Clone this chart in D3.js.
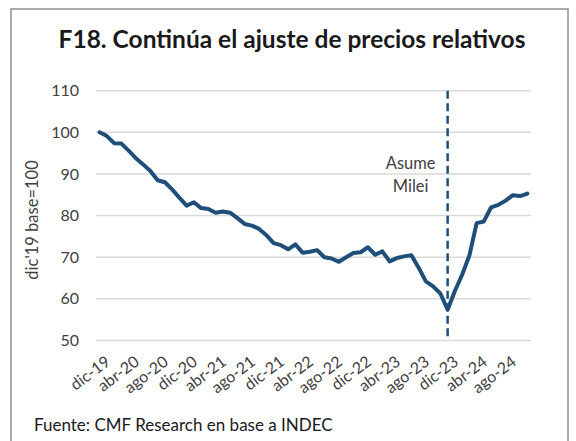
<!DOCTYPE html>
<html>
<head>
<meta charset="utf-8">
<script src="https://cdn.jsdelivr.net/npm/d3@7"></script>
<style>
  body { margin: 0; background: #fff; }
  svg { display: block; font-family: Lato, "Open Sans", sans-serif; }
</style>
</head>
<body>
<svg id="chart" width="576" height="441"></svg>
<script>
const MONTHS = [
  "dic-19",
  "ene-20", "feb-20", "mar-20", "abr-20", "may-20", "jun-20", "jul-20", "ago-20", "sep-20", "oct-20", "nov-20", "dic-20",
  "ene-21", "feb-21", "mar-21", "abr-21", "may-21", "jun-21", "jul-21", "ago-21", "sep-21", "oct-21", "nov-21", "dic-21",
  "ene-22", "feb-22", "mar-22", "abr-22", "may-22", "jun-22", "jul-22", "ago-22", "sep-22", "oct-22", "nov-22", "dic-22",
  "ene-23", "feb-23", "mar-23", "abr-23", "may-23", "jun-23", "jul-23", "ago-23", "sep-23", "oct-23", "nov-23", "dic-23",
  "ene-24", "feb-24", "mar-24", "abr-24", "may-24", "jun-24", "jul-24", "ago-24", "sep-24", "oct-24", "nov-24"
];

const RELATIVE_PRICES = [
  100.0, 99.1, 97.4, 97.3, 95.6, 93.8, 92.3, 90.7, 88.5, 88.0, 86.3, 84.3, 82.4,
  83.2, 81.8, 81.6, 80.7, 81.0, 80.7, 79.4, 78.0, 77.6, 76.8, 75.3, 73.4,
  72.9, 71.9, 73.1, 71.1, 71.3, 71.7, 70.0, 69.7, 68.9, 70.0, 71.0, 71.2,
  72.4, 70.6, 71.4, 69.0, 69.8, 70.2, 70.5, 67.5, 64.2, 63.0, 61.3, 57.4,
  61.9, 65.8, 70.4, 78.2, 78.6, 82.0, 82.6, 83.6, 84.9, 84.7, 85.3
];

const TICK_LABELS = [
  "dic-19", "abr-20", "ago-20", "dic-20", "abr-21", "ago-21", "dic-21", "abr-22",
  "ago-22", "dic-22", "abr-23", "ago-23", "dic-23", "abr-24", "ago-24"
];

const Y_TICKS = [50, 60, 70, 80, 90, 100, 110];
const MILEI_MONTH = "dic-23";

const svg = d3.select("#chart");
const blue = "#1f4e79";

// outer frame
svg.append("rect")
  .attr("x", 11).attr("y", 9)
  .attr("width", 557).attr("height", 450)
  .attr("fill", "none")
  .attr("stroke", "#8f8f8f")
  .attr("stroke-width", 1.5);

svg.append("text")
  .text("F18. Continúa el ajuste de precios relativos")
  .attr("x", 292).attr("y", 48)
  .attr("text-anchor", "middle")
  .style("font-size", "24.5px")
  .style("font-weight", "bold")
  .style("fill", "#1a1a1a");

const xScale = d3.scaleBand()
  .domain(MONTHS)
  .range([96, 531]);

const yScale = d3.scaleLinear()
  .domain([50, 110])
  .range([340.5, 90.7]);

const xPos = (m) => xScale(m) + xScale.bandwidth() / 2;

// gridlines
svg.append("g")
  .selectAll("line")
  .data(Y_TICKS)
  .enter()
  .append("line")
  .attr("x1", 96).attr("x2", 531)
  .attr("y1", (d) => yScale(d)).attr("y2", (d) => yScale(d))
  .attr("stroke", "#d9d9d9")
  .attr("stroke-width", 1.5);

// y axis
const yAxis = svg.append("g")
  .attr("transform", "translate(79,0)")
  .call(d3.axisLeft(yScale).tickValues(Y_TICKS).tickSize(0).tickPadding(0));
yAxis.select(".domain").remove();
yAxis.selectAll("text")
  .style("font-size", "16px")
  .style("font-family", "Lato, sans-serif")
  .style("fill", "#404040");

svg.append("text")
  .text("dic'19 base=100")
  .attr("transform", "translate(38,220) rotate(-90)")
  .attr("text-anchor", "middle")
  .style("font-size", "16.5px")
  .style("fill", "#404040");

// x axis labels
const xAxis = svg.append("g")
  .attr("transform", "translate(0,349)")
  .call(d3.axisBottom(xScale).tickValues(TICK_LABELS).tickSize(0).tickPadding(0));
xAxis.select(".domain").remove();
xAxis.selectAll("text")
  .attr("text-anchor", "end")
  .attr("transform", "translate(5,6) rotate(-37)")
  .attr("dy", "0.7em")
  .style("font-size", "16px")
  .style("font-family", "Lato, sans-serif")
  .style("fill", "#404040");

// Milei marker
svg.append("line")
  .attr("x1", xPos(MILEI_MONTH)).attr("x2", xPos(MILEI_MONTH))
  .attr("y1", yScale(110)).attr("y2", yScale(50))
  .attr("stroke", blue)
  .attr("stroke-width", 2.5)
  .attr("stroke-dasharray", "8,4.5");

const note = svg.append("text")
  .attr("text-anchor", "middle")
  .style("font-size", "16.5px")
  .style("fill", "#404040");
note.append("tspan").attr("x", xPos(MILEI_MONTH) - 37).attr("y", 169).text("Asume");
note.append("tspan").attr("x", xPos(MILEI_MONTH) - 37).attr("y", 192).text("Milei");

// series
const line = d3.line()
  .x((d, i) => xPos(MONTHS[i]))
  .y((d) => yScale(d));

svg.append("path")
  .datum(RELATIVE_PRICES)
  .attr("d", line)
  .attr("fill", "none")
  .attr("stroke", blue)
  .attr("stroke-width", 4)
  .attr("stroke-linejoin", "round")
  .attr("stroke-linecap", "round");

svg.append("text")
  .text("Fuente: CMF Research en base a INDEC")
  .attr("x", 34).attr("y", 431)
  .style("font-size", "17px")
  .style("fill", "#1a1a1a");
</script>
</body>
</html>
